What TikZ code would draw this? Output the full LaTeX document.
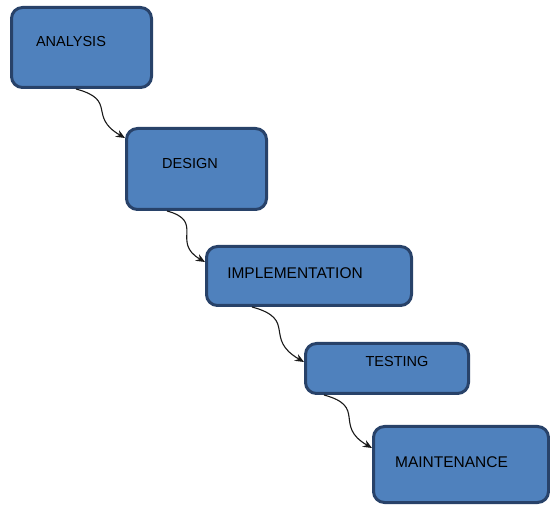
\documentclass[tikz,border=0pt]{standalone}
\usepackage{fontspec}
\setmainfont{Liberation Sans}
\usetikzlibrary{arrows.meta}
\definecolor{stagefill}{RGB}{79,129,189}
\definecolor{stageedge}{RGB}{40,66,105}
\tikzset{
  stagebox/.style={draw=stageedge, fill=stagefill, line width=3pt,
    rounded corners=11pt, inner sep=0pt},
  stagelabel/.style={inner sep=0pt, font=\fontsize{14.5}{16}\selectfont, text=black},
  widelabel/.style={stagelabel, font=\fontsize{15.5}{17}\selectfont},
  flow/.style={draw=black!90, line width=1.1pt,
    -{Stealth[length=9pt,width=7.5pt]}, out=-15, in=150, looseness=1.6}
}
\begin{document}
\begin{tikzpicture}[x=1pt,y=-1pt]
  \useasboundingbox (0,0) rectangle (550,508);

  % the five stages, stepping down to the right
  \node[stagebox, minimum width=140pt, minimum height=80pt] (b1) at (81.5,47.5) {};
  \node[stagebox, minimum width=140pt, minimum height=81pt] (b2) at (196.5,169) {};
  \node[stagebox, minimum width=205pt, minimum height=59pt] (b3) at (309,276) {};
  \node[stagebox, minimum width=163pt, minimum height=50pt] (b4) at (387,368.5) {};
  \node[stagebox, minimum width=175pt, minimum height=76pt] (b5) at (461,464.5) {};

  % stage names
  \node[stagelabel] (t1) at (71,42) {ANALYSIS};
  \node[stagelabel] (t2) at (190,164) {DESIGN};
  \node[widelabel] (t3) at (295,273) {IMPLEMENTATION};
  \node[stagelabel] (t4) at (397,362) {TESTING};
  \node[widelabel] (t5) at (451.5,462) {MAINTENANCE};

  % curved hand-offs from each stage to the next
  \draw[flow] ([xshift=66pt]b1.south west) to ([yshift=-11pt]b2.north west);
  \draw[flow] ([xshift=42pt]b2.south west) to ([yshift=-17pt]b3.north west);
  \draw[flow] ([xshift=47pt]b3.south west) to ([yshift=-20pt]b4.north west);
  \draw[flow] ([xshift=20pt]b4.south west) to ([yshift=-23pt]b5.north west);
\end{tikzpicture}
\end{document}
